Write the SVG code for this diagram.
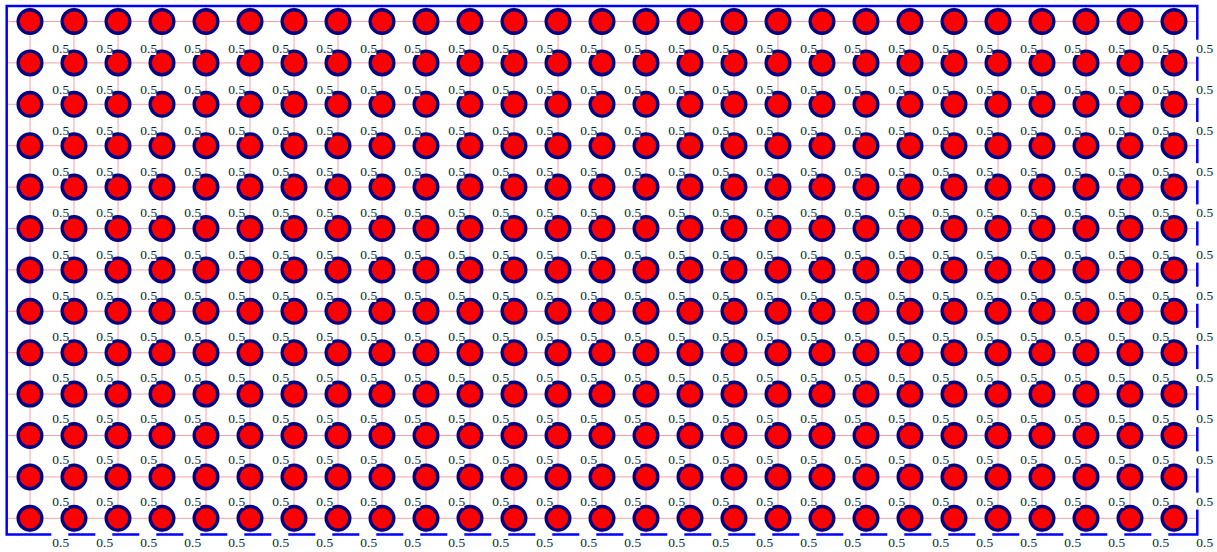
<svg xmlns="http://www.w3.org/2000/svg" width="1217" height="552" viewBox="0 0 1217 552">
<style>
.e line{stroke:#ff8080;stroke-opacity:0.75;stroke-width:1}
.n circle{fill:#ff0000;stroke:#000080;stroke-width:3.4}
.bg rect{fill:#ffffff}
.lb text{font-family:"Liberation Serif","Times New Roman",serif;font-size:13.5px;fill:#1a1a1a}
</style>
<rect width="1217" height="552" fill="#ffffff"/>
<g id="connectors" class="e">
<line x1="6.7" y1="21.5" x2="1197.3" y2="21.5"/><line x1="6.7" y1="62.9" x2="1197.3" y2="62.9"/><line x1="6.7" y1="104.3" x2="1197.3" y2="104.3"/><line x1="6.7" y1="145.7" x2="1197.3" y2="145.7"/><line x1="6.7" y1="187.1" x2="1197.3" y2="187.1"/><line x1="6.7" y1="228.5" x2="1197.3" y2="228.5"/><line x1="6.7" y1="269.9" x2="1197.3" y2="269.9"/><line x1="6.7" y1="311.3" x2="1197.3" y2="311.3"/><line x1="6.7" y1="352.7" x2="1197.3" y2="352.7"/><line x1="6.7" y1="394.1" x2="1197.3" y2="394.1"/><line x1="6.7" y1="435.5" x2="1197.3" y2="435.5"/><line x1="6.7" y1="476.9" x2="1197.3" y2="476.9"/><line x1="6.7" y1="518.3" x2="1197.3" y2="518.3"/>
<line x1="30" y1="6" x2="30" y2="534.5"/><line x1="74" y1="6" x2="74" y2="534.5"/><line x1="118" y1="6" x2="118" y2="534.5"/><line x1="162" y1="6" x2="162" y2="534.5"/><line x1="206" y1="6" x2="206" y2="534.5"/><line x1="250" y1="6" x2="250" y2="534.5"/><line x1="294" y1="6" x2="294" y2="534.5"/><line x1="338" y1="6" x2="338" y2="534.5"/><line x1="382" y1="6" x2="382" y2="534.5"/><line x1="426" y1="6" x2="426" y2="534.5"/><line x1="470" y1="6" x2="470" y2="534.5"/><line x1="514" y1="6" x2="514" y2="534.5"/><line x1="558" y1="6" x2="558" y2="534.5"/><line x1="602" y1="6" x2="602" y2="534.5"/><line x1="646" y1="6" x2="646" y2="534.5"/><line x1="690" y1="6" x2="690" y2="534.5"/><line x1="734" y1="6" x2="734" y2="534.5"/><line x1="778" y1="6" x2="778" y2="534.5"/><line x1="822" y1="6" x2="822" y2="534.5"/><line x1="866" y1="6" x2="866" y2="534.5"/><line x1="910" y1="6" x2="910" y2="534.5"/><line x1="954" y1="6" x2="954" y2="534.5"/><line x1="998" y1="6" x2="998" y2="534.5"/><line x1="1042" y1="6" x2="1042" y2="534.5"/><line x1="1086" y1="6" x2="1086" y2="534.5"/><line x1="1130" y1="6" x2="1130" y2="534.5"/><line x1="1174" y1="6" x2="1174" y2="534.5"/>
</g>
<rect id="frame" x="6.7" y="6" width="1190.6" height="528.5" fill="none" stroke="#0000ff" stroke-width="2.5"/>
<g id="nodes" class="n">
<g transform="translate(0,21.5)"><g id="n1-1"><circle cx="30" r="11.8"/></g><g id="n1-2"><circle cx="74" r="11.8"/></g><g id="n1-3"><circle cx="118" r="11.8"/></g><g id="n1-4"><circle cx="162" r="11.8"/></g><g id="n1-5"><circle cx="206" r="11.8"/></g><g id="n1-6"><circle cx="250" r="11.8"/></g><g id="n1-7"><circle cx="294" r="11.8"/></g><g id="n1-8"><circle cx="338" r="11.8"/></g><g id="n1-9"><circle cx="382" r="11.8"/></g><g id="n1-10"><circle cx="426" r="11.8"/></g><g id="n1-11"><circle cx="470" r="11.8"/></g><g id="n1-12"><circle cx="514" r="11.8"/></g><g id="n1-13"><circle cx="558" r="11.8"/></g><g id="n1-14"><circle cx="602" r="11.8"/></g><g id="n1-15"><circle cx="646" r="11.8"/></g><g id="n1-16"><circle cx="690" r="11.8"/></g><g id="n1-17"><circle cx="734" r="11.8"/></g><g id="n1-18"><circle cx="778" r="11.8"/></g><g id="n1-19"><circle cx="822" r="11.8"/></g><g id="n1-20"><circle cx="866" r="11.8"/></g><g id="n1-21"><circle cx="910" r="11.8"/></g><g id="n1-22"><circle cx="954" r="11.8"/></g><g id="n1-23"><circle cx="998" r="11.8"/></g><g id="n1-24"><circle cx="1042" r="11.8"/></g><g id="n1-25"><circle cx="1086" r="11.8"/></g><g id="n1-26"><circle cx="1130" r="11.8"/></g><g id="n1-27"><circle cx="1174" r="11.8"/></g></g>
<g transform="translate(0,62.9)"><g id="n2-1"><circle cx="30" r="11.8"/></g><g id="n2-2"><circle cx="74" r="11.8"/></g><g id="n2-3"><circle cx="118" r="11.8"/></g><g id="n2-4"><circle cx="162" r="11.8"/></g><g id="n2-5"><circle cx="206" r="11.8"/></g><g id="n2-6"><circle cx="250" r="11.8"/></g><g id="n2-7"><circle cx="294" r="11.8"/></g><g id="n2-8"><circle cx="338" r="11.8"/></g><g id="n2-9"><circle cx="382" r="11.8"/></g><g id="n2-10"><circle cx="426" r="11.8"/></g><g id="n2-11"><circle cx="470" r="11.8"/></g><g id="n2-12"><circle cx="514" r="11.8"/></g><g id="n2-13"><circle cx="558" r="11.8"/></g><g id="n2-14"><circle cx="602" r="11.8"/></g><g id="n2-15"><circle cx="646" r="11.8"/></g><g id="n2-16"><circle cx="690" r="11.8"/></g><g id="n2-17"><circle cx="734" r="11.8"/></g><g id="n2-18"><circle cx="778" r="11.8"/></g><g id="n2-19"><circle cx="822" r="11.8"/></g><g id="n2-20"><circle cx="866" r="11.8"/></g><g id="n2-21"><circle cx="910" r="11.8"/></g><g id="n2-22"><circle cx="954" r="11.8"/></g><g id="n2-23"><circle cx="998" r="11.8"/></g><g id="n2-24"><circle cx="1042" r="11.8"/></g><g id="n2-25"><circle cx="1086" r="11.8"/></g><g id="n2-26"><circle cx="1130" r="11.8"/></g><g id="n2-27"><circle cx="1174" r="11.8"/></g></g>
<g transform="translate(0,104.3)"><g id="n3-1"><circle cx="30" r="11.8"/></g><g id="n3-2"><circle cx="74" r="11.8"/></g><g id="n3-3"><circle cx="118" r="11.8"/></g><g id="n3-4"><circle cx="162" r="11.8"/></g><g id="n3-5"><circle cx="206" r="11.8"/></g><g id="n3-6"><circle cx="250" r="11.8"/></g><g id="n3-7"><circle cx="294" r="11.8"/></g><g id="n3-8"><circle cx="338" r="11.8"/></g><g id="n3-9"><circle cx="382" r="11.8"/></g><g id="n3-10"><circle cx="426" r="11.8"/></g><g id="n3-11"><circle cx="470" r="11.8"/></g><g id="n3-12"><circle cx="514" r="11.8"/></g><g id="n3-13"><circle cx="558" r="11.8"/></g><g id="n3-14"><circle cx="602" r="11.8"/></g><g id="n3-15"><circle cx="646" r="11.8"/></g><g id="n3-16"><circle cx="690" r="11.8"/></g><g id="n3-17"><circle cx="734" r="11.8"/></g><g id="n3-18"><circle cx="778" r="11.8"/></g><g id="n3-19"><circle cx="822" r="11.8"/></g><g id="n3-20"><circle cx="866" r="11.8"/></g><g id="n3-21"><circle cx="910" r="11.8"/></g><g id="n3-22"><circle cx="954" r="11.8"/></g><g id="n3-23"><circle cx="998" r="11.8"/></g><g id="n3-24"><circle cx="1042" r="11.8"/></g><g id="n3-25"><circle cx="1086" r="11.8"/></g><g id="n3-26"><circle cx="1130" r="11.8"/></g><g id="n3-27"><circle cx="1174" r="11.8"/></g></g>
<g transform="translate(0,145.7)"><g id="n4-1"><circle cx="30" r="11.8"/></g><g id="n4-2"><circle cx="74" r="11.8"/></g><g id="n4-3"><circle cx="118" r="11.8"/></g><g id="n4-4"><circle cx="162" r="11.8"/></g><g id="n4-5"><circle cx="206" r="11.8"/></g><g id="n4-6"><circle cx="250" r="11.8"/></g><g id="n4-7"><circle cx="294" r="11.8"/></g><g id="n4-8"><circle cx="338" r="11.8"/></g><g id="n4-9"><circle cx="382" r="11.8"/></g><g id="n4-10"><circle cx="426" r="11.8"/></g><g id="n4-11"><circle cx="470" r="11.8"/></g><g id="n4-12"><circle cx="514" r="11.8"/></g><g id="n4-13"><circle cx="558" r="11.8"/></g><g id="n4-14"><circle cx="602" r="11.8"/></g><g id="n4-15"><circle cx="646" r="11.8"/></g><g id="n4-16"><circle cx="690" r="11.8"/></g><g id="n4-17"><circle cx="734" r="11.8"/></g><g id="n4-18"><circle cx="778" r="11.8"/></g><g id="n4-19"><circle cx="822" r="11.8"/></g><g id="n4-20"><circle cx="866" r="11.8"/></g><g id="n4-21"><circle cx="910" r="11.8"/></g><g id="n4-22"><circle cx="954" r="11.8"/></g><g id="n4-23"><circle cx="998" r="11.8"/></g><g id="n4-24"><circle cx="1042" r="11.8"/></g><g id="n4-25"><circle cx="1086" r="11.8"/></g><g id="n4-26"><circle cx="1130" r="11.8"/></g><g id="n4-27"><circle cx="1174" r="11.8"/></g></g>
<g transform="translate(0,187.1)"><g id="n5-1"><circle cx="30" r="11.8"/></g><g id="n5-2"><circle cx="74" r="11.8"/></g><g id="n5-3"><circle cx="118" r="11.8"/></g><g id="n5-4"><circle cx="162" r="11.8"/></g><g id="n5-5"><circle cx="206" r="11.8"/></g><g id="n5-6"><circle cx="250" r="11.8"/></g><g id="n5-7"><circle cx="294" r="11.8"/></g><g id="n5-8"><circle cx="338" r="11.8"/></g><g id="n5-9"><circle cx="382" r="11.8"/></g><g id="n5-10"><circle cx="426" r="11.8"/></g><g id="n5-11"><circle cx="470" r="11.8"/></g><g id="n5-12"><circle cx="514" r="11.8"/></g><g id="n5-13"><circle cx="558" r="11.8"/></g><g id="n5-14"><circle cx="602" r="11.8"/></g><g id="n5-15"><circle cx="646" r="11.8"/></g><g id="n5-16"><circle cx="690" r="11.8"/></g><g id="n5-17"><circle cx="734" r="11.8"/></g><g id="n5-18"><circle cx="778" r="11.8"/></g><g id="n5-19"><circle cx="822" r="11.8"/></g><g id="n5-20"><circle cx="866" r="11.8"/></g><g id="n5-21"><circle cx="910" r="11.8"/></g><g id="n5-22"><circle cx="954" r="11.8"/></g><g id="n5-23"><circle cx="998" r="11.8"/></g><g id="n5-24"><circle cx="1042" r="11.8"/></g><g id="n5-25"><circle cx="1086" r="11.8"/></g><g id="n5-26"><circle cx="1130" r="11.8"/></g><g id="n5-27"><circle cx="1174" r="11.8"/></g></g>
<g transform="translate(0,228.5)"><g id="n6-1"><circle cx="30" r="11.8"/></g><g id="n6-2"><circle cx="74" r="11.8"/></g><g id="n6-3"><circle cx="118" r="11.8"/></g><g id="n6-4"><circle cx="162" r="11.8"/></g><g id="n6-5"><circle cx="206" r="11.8"/></g><g id="n6-6"><circle cx="250" r="11.8"/></g><g id="n6-7"><circle cx="294" r="11.8"/></g><g id="n6-8"><circle cx="338" r="11.8"/></g><g id="n6-9"><circle cx="382" r="11.8"/></g><g id="n6-10"><circle cx="426" r="11.8"/></g><g id="n6-11"><circle cx="470" r="11.8"/></g><g id="n6-12"><circle cx="514" r="11.8"/></g><g id="n6-13"><circle cx="558" r="11.8"/></g><g id="n6-14"><circle cx="602" r="11.8"/></g><g id="n6-15"><circle cx="646" r="11.8"/></g><g id="n6-16"><circle cx="690" r="11.8"/></g><g id="n6-17"><circle cx="734" r="11.8"/></g><g id="n6-18"><circle cx="778" r="11.8"/></g><g id="n6-19"><circle cx="822" r="11.8"/></g><g id="n6-20"><circle cx="866" r="11.8"/></g><g id="n6-21"><circle cx="910" r="11.8"/></g><g id="n6-22"><circle cx="954" r="11.8"/></g><g id="n6-23"><circle cx="998" r="11.8"/></g><g id="n6-24"><circle cx="1042" r="11.8"/></g><g id="n6-25"><circle cx="1086" r="11.8"/></g><g id="n6-26"><circle cx="1130" r="11.8"/></g><g id="n6-27"><circle cx="1174" r="11.8"/></g></g>
<g transform="translate(0,269.9)"><g id="n7-1"><circle cx="30" r="11.8"/></g><g id="n7-2"><circle cx="74" r="11.8"/></g><g id="n7-3"><circle cx="118" r="11.8"/></g><g id="n7-4"><circle cx="162" r="11.8"/></g><g id="n7-5"><circle cx="206" r="11.8"/></g><g id="n7-6"><circle cx="250" r="11.8"/></g><g id="n7-7"><circle cx="294" r="11.8"/></g><g id="n7-8"><circle cx="338" r="11.8"/></g><g id="n7-9"><circle cx="382" r="11.8"/></g><g id="n7-10"><circle cx="426" r="11.8"/></g><g id="n7-11"><circle cx="470" r="11.8"/></g><g id="n7-12"><circle cx="514" r="11.8"/></g><g id="n7-13"><circle cx="558" r="11.8"/></g><g id="n7-14"><circle cx="602" r="11.8"/></g><g id="n7-15"><circle cx="646" r="11.8"/></g><g id="n7-16"><circle cx="690" r="11.8"/></g><g id="n7-17"><circle cx="734" r="11.8"/></g><g id="n7-18"><circle cx="778" r="11.8"/></g><g id="n7-19"><circle cx="822" r="11.8"/></g><g id="n7-20"><circle cx="866" r="11.8"/></g><g id="n7-21"><circle cx="910" r="11.8"/></g><g id="n7-22"><circle cx="954" r="11.8"/></g><g id="n7-23"><circle cx="998" r="11.8"/></g><g id="n7-24"><circle cx="1042" r="11.8"/></g><g id="n7-25"><circle cx="1086" r="11.8"/></g><g id="n7-26"><circle cx="1130" r="11.8"/></g><g id="n7-27"><circle cx="1174" r="11.8"/></g></g>
<g transform="translate(0,311.3)"><g id="n8-1"><circle cx="30" r="11.8"/></g><g id="n8-2"><circle cx="74" r="11.8"/></g><g id="n8-3"><circle cx="118" r="11.8"/></g><g id="n8-4"><circle cx="162" r="11.8"/></g><g id="n8-5"><circle cx="206" r="11.8"/></g><g id="n8-6"><circle cx="250" r="11.8"/></g><g id="n8-7"><circle cx="294" r="11.8"/></g><g id="n8-8"><circle cx="338" r="11.8"/></g><g id="n8-9"><circle cx="382" r="11.8"/></g><g id="n8-10"><circle cx="426" r="11.8"/></g><g id="n8-11"><circle cx="470" r="11.8"/></g><g id="n8-12"><circle cx="514" r="11.8"/></g><g id="n8-13"><circle cx="558" r="11.8"/></g><g id="n8-14"><circle cx="602" r="11.8"/></g><g id="n8-15"><circle cx="646" r="11.8"/></g><g id="n8-16"><circle cx="690" r="11.8"/></g><g id="n8-17"><circle cx="734" r="11.8"/></g><g id="n8-18"><circle cx="778" r="11.8"/></g><g id="n8-19"><circle cx="822" r="11.8"/></g><g id="n8-20"><circle cx="866" r="11.8"/></g><g id="n8-21"><circle cx="910" r="11.8"/></g><g id="n8-22"><circle cx="954" r="11.8"/></g><g id="n8-23"><circle cx="998" r="11.8"/></g><g id="n8-24"><circle cx="1042" r="11.8"/></g><g id="n8-25"><circle cx="1086" r="11.8"/></g><g id="n8-26"><circle cx="1130" r="11.8"/></g><g id="n8-27"><circle cx="1174" r="11.8"/></g></g>
<g transform="translate(0,352.7)"><g id="n9-1"><circle cx="30" r="11.8"/></g><g id="n9-2"><circle cx="74" r="11.8"/></g><g id="n9-3"><circle cx="118" r="11.8"/></g><g id="n9-4"><circle cx="162" r="11.8"/></g><g id="n9-5"><circle cx="206" r="11.8"/></g><g id="n9-6"><circle cx="250" r="11.8"/></g><g id="n9-7"><circle cx="294" r="11.8"/></g><g id="n9-8"><circle cx="338" r="11.8"/></g><g id="n9-9"><circle cx="382" r="11.8"/></g><g id="n9-10"><circle cx="426" r="11.8"/></g><g id="n9-11"><circle cx="470" r="11.8"/></g><g id="n9-12"><circle cx="514" r="11.8"/></g><g id="n9-13"><circle cx="558" r="11.8"/></g><g id="n9-14"><circle cx="602" r="11.8"/></g><g id="n9-15"><circle cx="646" r="11.8"/></g><g id="n9-16"><circle cx="690" r="11.8"/></g><g id="n9-17"><circle cx="734" r="11.8"/></g><g id="n9-18"><circle cx="778" r="11.8"/></g><g id="n9-19"><circle cx="822" r="11.8"/></g><g id="n9-20"><circle cx="866" r="11.8"/></g><g id="n9-21"><circle cx="910" r="11.8"/></g><g id="n9-22"><circle cx="954" r="11.8"/></g><g id="n9-23"><circle cx="998" r="11.8"/></g><g id="n9-24"><circle cx="1042" r="11.8"/></g><g id="n9-25"><circle cx="1086" r="11.8"/></g><g id="n9-26"><circle cx="1130" r="11.8"/></g><g id="n9-27"><circle cx="1174" r="11.8"/></g></g>
<g transform="translate(0,394.1)"><g id="n10-1"><circle cx="30" r="11.8"/></g><g id="n10-2"><circle cx="74" r="11.8"/></g><g id="n10-3"><circle cx="118" r="11.8"/></g><g id="n10-4"><circle cx="162" r="11.8"/></g><g id="n10-5"><circle cx="206" r="11.8"/></g><g id="n10-6"><circle cx="250" r="11.8"/></g><g id="n10-7"><circle cx="294" r="11.8"/></g><g id="n10-8"><circle cx="338" r="11.8"/></g><g id="n10-9"><circle cx="382" r="11.8"/></g><g id="n10-10"><circle cx="426" r="11.8"/></g><g id="n10-11"><circle cx="470" r="11.8"/></g><g id="n10-12"><circle cx="514" r="11.8"/></g><g id="n10-13"><circle cx="558" r="11.8"/></g><g id="n10-14"><circle cx="602" r="11.8"/></g><g id="n10-15"><circle cx="646" r="11.8"/></g><g id="n10-16"><circle cx="690" r="11.8"/></g><g id="n10-17"><circle cx="734" r="11.8"/></g><g id="n10-18"><circle cx="778" r="11.8"/></g><g id="n10-19"><circle cx="822" r="11.8"/></g><g id="n10-20"><circle cx="866" r="11.8"/></g><g id="n10-21"><circle cx="910" r="11.8"/></g><g id="n10-22"><circle cx="954" r="11.8"/></g><g id="n10-23"><circle cx="998" r="11.8"/></g><g id="n10-24"><circle cx="1042" r="11.8"/></g><g id="n10-25"><circle cx="1086" r="11.8"/></g><g id="n10-26"><circle cx="1130" r="11.8"/></g><g id="n10-27"><circle cx="1174" r="11.8"/></g></g>
<g transform="translate(0,435.5)"><g id="n11-1"><circle cx="30" r="11.8"/></g><g id="n11-2"><circle cx="74" r="11.8"/></g><g id="n11-3"><circle cx="118" r="11.8"/></g><g id="n11-4"><circle cx="162" r="11.8"/></g><g id="n11-5"><circle cx="206" r="11.8"/></g><g id="n11-6"><circle cx="250" r="11.8"/></g><g id="n11-7"><circle cx="294" r="11.8"/></g><g id="n11-8"><circle cx="338" r="11.8"/></g><g id="n11-9"><circle cx="382" r="11.8"/></g><g id="n11-10"><circle cx="426" r="11.8"/></g><g id="n11-11"><circle cx="470" r="11.8"/></g><g id="n11-12"><circle cx="514" r="11.8"/></g><g id="n11-13"><circle cx="558" r="11.8"/></g><g id="n11-14"><circle cx="602" r="11.8"/></g><g id="n11-15"><circle cx="646" r="11.8"/></g><g id="n11-16"><circle cx="690" r="11.8"/></g><g id="n11-17"><circle cx="734" r="11.8"/></g><g id="n11-18"><circle cx="778" r="11.8"/></g><g id="n11-19"><circle cx="822" r="11.8"/></g><g id="n11-20"><circle cx="866" r="11.8"/></g><g id="n11-21"><circle cx="910" r="11.8"/></g><g id="n11-22"><circle cx="954" r="11.8"/></g><g id="n11-23"><circle cx="998" r="11.8"/></g><g id="n11-24"><circle cx="1042" r="11.8"/></g><g id="n11-25"><circle cx="1086" r="11.8"/></g><g id="n11-26"><circle cx="1130" r="11.8"/></g><g id="n11-27"><circle cx="1174" r="11.8"/></g></g>
<g transform="translate(0,476.9)"><g id="n12-1"><circle cx="30" r="11.8"/></g><g id="n12-2"><circle cx="74" r="11.8"/></g><g id="n12-3"><circle cx="118" r="11.8"/></g><g id="n12-4"><circle cx="162" r="11.8"/></g><g id="n12-5"><circle cx="206" r="11.8"/></g><g id="n12-6"><circle cx="250" r="11.8"/></g><g id="n12-7"><circle cx="294" r="11.8"/></g><g id="n12-8"><circle cx="338" r="11.8"/></g><g id="n12-9"><circle cx="382" r="11.8"/></g><g id="n12-10"><circle cx="426" r="11.8"/></g><g id="n12-11"><circle cx="470" r="11.8"/></g><g id="n12-12"><circle cx="514" r="11.8"/></g><g id="n12-13"><circle cx="558" r="11.8"/></g><g id="n12-14"><circle cx="602" r="11.8"/></g><g id="n12-15"><circle cx="646" r="11.8"/></g><g id="n12-16"><circle cx="690" r="11.8"/></g><g id="n12-17"><circle cx="734" r="11.8"/></g><g id="n12-18"><circle cx="778" r="11.8"/></g><g id="n12-19"><circle cx="822" r="11.8"/></g><g id="n12-20"><circle cx="866" r="11.8"/></g><g id="n12-21"><circle cx="910" r="11.8"/></g><g id="n12-22"><circle cx="954" r="11.8"/></g><g id="n12-23"><circle cx="998" r="11.8"/></g><g id="n12-24"><circle cx="1042" r="11.8"/></g><g id="n12-25"><circle cx="1086" r="11.8"/></g><g id="n12-26"><circle cx="1130" r="11.8"/></g><g id="n12-27"><circle cx="1174" r="11.8"/></g></g>
<g transform="translate(0,518.3)"><g id="n13-1"><circle cx="30" r="11.8"/></g><g id="n13-2"><circle cx="74" r="11.8"/></g><g id="n13-3"><circle cx="118" r="11.8"/></g><g id="n13-4"><circle cx="162" r="11.8"/></g><g id="n13-5"><circle cx="206" r="11.8"/></g><g id="n13-6"><circle cx="250" r="11.8"/></g><g id="n13-7"><circle cx="294" r="11.8"/></g><g id="n13-8"><circle cx="338" r="11.8"/></g><g id="n13-9"><circle cx="382" r="11.8"/></g><g id="n13-10"><circle cx="426" r="11.8"/></g><g id="n13-11"><circle cx="470" r="11.8"/></g><g id="n13-12"><circle cx="514" r="11.8"/></g><g id="n13-13"><circle cx="558" r="11.8"/></g><g id="n13-14"><circle cx="602" r="11.8"/></g><g id="n13-15"><circle cx="646" r="11.8"/></g><g id="n13-16"><circle cx="690" r="11.8"/></g><g id="n13-17"><circle cx="734" r="11.8"/></g><g id="n13-18"><circle cx="778" r="11.8"/></g><g id="n13-19"><circle cx="822" r="11.8"/></g><g id="n13-20"><circle cx="866" r="11.8"/></g><g id="n13-21"><circle cx="910" r="11.8"/></g><g id="n13-22"><circle cx="954" r="11.8"/></g><g id="n13-23"><circle cx="998" r="11.8"/></g><g id="n13-24"><circle cx="1042" r="11.8"/></g><g id="n13-25"><circle cx="1086" r="11.8"/></g><g id="n13-26"><circle cx="1130" r="11.8"/></g><g id="n13-27"><circle cx="1174" r="11.8"/></g></g>
</g>
<defs>
<g id="rowbg" fill="#ffffff"><rect x="50.8" y="-12" width="17.5" height="14.3"/><rect x="94.8" y="-12" width="17.5" height="14.3"/><rect x="138.8" y="-12" width="17.5" height="14.3"/><rect x="182.8" y="-12" width="17.5" height="14.3"/><rect x="226.8" y="-12" width="17.5" height="14.3"/><rect x="270.8" y="-12" width="17.5" height="14.3"/><rect x="314.8" y="-12" width="17.5" height="14.3"/><rect x="358.8" y="-12" width="17.5" height="14.3"/><rect x="402.8" y="-12" width="17.5" height="14.3"/><rect x="446.8" y="-12" width="17.5" height="14.3"/><rect x="490.8" y="-12" width="17.5" height="14.3"/><rect x="534.8" y="-12" width="17.5" height="14.3"/><rect x="578.8" y="-12" width="17.5" height="14.3"/><rect x="622.8" y="-12" width="17.5" height="14.3"/><rect x="666.8" y="-12" width="17.5" height="14.3"/><rect x="710.8" y="-12" width="17.5" height="14.3"/><rect x="754.8" y="-12" width="17.5" height="14.3"/><rect x="798.8" y="-12" width="17.5" height="14.3"/><rect x="842.8" y="-12" width="17.5" height="14.3"/><rect x="886.8" y="-12" width="17.5" height="14.3"/><rect x="930.8" y="-12" width="17.5" height="14.3"/><rect x="974.8" y="-12" width="17.5" height="14.3"/><rect x="1018.8" y="-12" width="17.5" height="14.3"/><rect x="1062.8" y="-12" width="17.5" height="14.3"/><rect x="1106.8" y="-12" width="17.5" height="14.3"/><rect x="1150.8" y="-12" width="17.5" height="14.3"/><rect x="1194.3" y="-13" width="18" height="17"/></g>
</defs>
<g id="label-backgrounds" class="bg">
<use href="#rowbg" y="52.7"/><use href="#rowbg" y="93.9"/><use href="#rowbg" y="135"/><use href="#rowbg" y="176.2"/><use href="#rowbg" y="217.4"/><use href="#rowbg" y="258.6"/><use href="#rowbg" y="299.7"/><use href="#rowbg" y="340.9"/><use href="#rowbg" y="382.1"/><use href="#rowbg" y="423.2"/><use href="#rowbg" y="464.4"/><use href="#rowbg" y="505.6"/>
<g transform="translate(0,531.5)"><rect x="51.3" width="17" height="5.5"/><rect x="95.3" width="17" height="5.5"/><rect x="139.3" width="17" height="5.5"/><rect x="183.3" width="17" height="5.5"/><rect x="227.3" width="17" height="5.5"/><rect x="271.3" width="17" height="5.5"/><rect x="315.3" width="17" height="5.5"/><rect x="359.3" width="17" height="5.5"/><rect x="403.3" width="17" height="5.5"/><rect x="447.3" width="17" height="5.5"/><rect x="491.3" width="17" height="5.5"/><rect x="535.3" width="17" height="5.5"/><rect x="579.3" width="17" height="5.5"/><rect x="623.3" width="17" height="5.5"/><rect x="667.3" width="17" height="5.5"/><rect x="711.3" width="17" height="5.5"/><rect x="755.3" width="17" height="5.5"/><rect x="799.3" width="17" height="5.5"/><rect x="843.3" width="17" height="5.5"/><rect x="887.3" width="17" height="5.5"/><rect x="931.3" width="17" height="5.5"/><rect x="975.3" width="17" height="5.5"/><rect x="1019.3" width="17" height="5.5"/><rect x="1063.3" width="17" height="5.5"/><rect x="1107.3" width="17" height="5.5"/><rect x="1151.3" width="17" height="5.5"/></g>
</g>
<g id="labels" class="lb">
<g transform="translate(0,52.7)"><text x="52.3">0.5</text><text x="96.3">0.5</text><text x="140.3">0.5</text><text x="184.3">0.5</text><text x="228.3">0.5</text><text x="272.3">0.5</text><text x="316.3">0.5</text><text x="360.3">0.5</text><text x="404.3">0.5</text><text x="448.3">0.5</text><text x="492.3">0.5</text><text x="536.3">0.5</text><text x="580.3">0.5</text><text x="624.3">0.5</text><text x="668.3">0.5</text><text x="712.3">0.5</text><text x="756.3">0.5</text><text x="800.3">0.5</text><text x="844.3">0.5</text><text x="888.3">0.5</text><text x="932.3">0.5</text><text x="976.3">0.5</text><text x="1020.3">0.5</text><text x="1064.3">0.5</text><text x="1108.3">0.5</text><text x="1152.3">0.5</text><text x="1196.3">0.5</text></g>
<g transform="translate(0,93.9)"><text x="52.3">0.5</text><text x="96.3">0.5</text><text x="140.3">0.5</text><text x="184.3">0.5</text><text x="228.3">0.5</text><text x="272.3">0.5</text><text x="316.3">0.5</text><text x="360.3">0.5</text><text x="404.3">0.5</text><text x="448.3">0.5</text><text x="492.3">0.5</text><text x="536.3">0.5</text><text x="580.3">0.5</text><text x="624.3">0.5</text><text x="668.3">0.5</text><text x="712.3">0.5</text><text x="756.3">0.5</text><text x="800.3">0.5</text><text x="844.3">0.5</text><text x="888.3">0.5</text><text x="932.3">0.5</text><text x="976.3">0.5</text><text x="1020.3">0.5</text><text x="1064.3">0.5</text><text x="1108.3">0.5</text><text x="1152.3">0.5</text><text x="1196.3">0.5</text></g>
<g transform="translate(0,135)"><text x="52.3">0.5</text><text x="96.3">0.5</text><text x="140.3">0.5</text><text x="184.3">0.5</text><text x="228.3">0.5</text><text x="272.3">0.5</text><text x="316.3">0.5</text><text x="360.3">0.5</text><text x="404.3">0.5</text><text x="448.3">0.5</text><text x="492.3">0.5</text><text x="536.3">0.5</text><text x="580.3">0.5</text><text x="624.3">0.5</text><text x="668.3">0.5</text><text x="712.3">0.5</text><text x="756.3">0.5</text><text x="800.3">0.5</text><text x="844.3">0.5</text><text x="888.3">0.5</text><text x="932.3">0.5</text><text x="976.3">0.5</text><text x="1020.3">0.5</text><text x="1064.3">0.5</text><text x="1108.3">0.5</text><text x="1152.3">0.5</text><text x="1196.3">0.5</text></g>
<g transform="translate(0,176.2)"><text x="52.3">0.5</text><text x="96.3">0.5</text><text x="140.3">0.5</text><text x="184.3">0.5</text><text x="228.3">0.5</text><text x="272.3">0.5</text><text x="316.3">0.5</text><text x="360.3">0.5</text><text x="404.3">0.5</text><text x="448.3">0.5</text><text x="492.3">0.5</text><text x="536.3">0.5</text><text x="580.3">0.5</text><text x="624.3">0.5</text><text x="668.3">0.5</text><text x="712.3">0.5</text><text x="756.3">0.5</text><text x="800.3">0.5</text><text x="844.3">0.5</text><text x="888.3">0.5</text><text x="932.3">0.5</text><text x="976.3">0.5</text><text x="1020.3">0.5</text><text x="1064.3">0.5</text><text x="1108.3">0.5</text><text x="1152.3">0.5</text><text x="1196.3">0.5</text></g>
<g transform="translate(0,217.4)"><text x="52.3">0.5</text><text x="96.3">0.5</text><text x="140.3">0.5</text><text x="184.3">0.5</text><text x="228.3">0.5</text><text x="272.3">0.5</text><text x="316.3">0.5</text><text x="360.3">0.5</text><text x="404.3">0.5</text><text x="448.3">0.5</text><text x="492.3">0.5</text><text x="536.3">0.5</text><text x="580.3">0.5</text><text x="624.3">0.5</text><text x="668.3">0.5</text><text x="712.3">0.5</text><text x="756.3">0.5</text><text x="800.3">0.5</text><text x="844.3">0.5</text><text x="888.3">0.5</text><text x="932.3">0.5</text><text x="976.3">0.5</text><text x="1020.3">0.5</text><text x="1064.3">0.5</text><text x="1108.3">0.5</text><text x="1152.3">0.5</text><text x="1196.3">0.5</text></g>
<g transform="translate(0,258.6)"><text x="52.3">0.5</text><text x="96.3">0.5</text><text x="140.3">0.5</text><text x="184.3">0.5</text><text x="228.3">0.5</text><text x="272.3">0.5</text><text x="316.3">0.5</text><text x="360.3">0.5</text><text x="404.3">0.5</text><text x="448.3">0.5</text><text x="492.3">0.5</text><text x="536.3">0.5</text><text x="580.3">0.5</text><text x="624.3">0.5</text><text x="668.3">0.5</text><text x="712.3">0.5</text><text x="756.3">0.5</text><text x="800.3">0.5</text><text x="844.3">0.5</text><text x="888.3">0.5</text><text x="932.3">0.5</text><text x="976.3">0.5</text><text x="1020.3">0.5</text><text x="1064.3">0.5</text><text x="1108.3">0.5</text><text x="1152.3">0.5</text><text x="1196.3">0.5</text></g>
<g transform="translate(0,299.7)"><text x="52.3">0.5</text><text x="96.3">0.5</text><text x="140.3">0.5</text><text x="184.3">0.5</text><text x="228.3">0.5</text><text x="272.3">0.5</text><text x="316.3">0.5</text><text x="360.3">0.5</text><text x="404.3">0.5</text><text x="448.3">0.5</text><text x="492.3">0.5</text><text x="536.3">0.5</text><text x="580.3">0.5</text><text x="624.3">0.5</text><text x="668.3">0.5</text><text x="712.3">0.5</text><text x="756.3">0.5</text><text x="800.3">0.5</text><text x="844.3">0.5</text><text x="888.3">0.5</text><text x="932.3">0.5</text><text x="976.3">0.5</text><text x="1020.3">0.5</text><text x="1064.3">0.5</text><text x="1108.3">0.5</text><text x="1152.3">0.5</text><text x="1196.3">0.5</text></g>
<g transform="translate(0,340.9)"><text x="52.3">0.5</text><text x="96.3">0.5</text><text x="140.3">0.5</text><text x="184.3">0.5</text><text x="228.3">0.5</text><text x="272.3">0.5</text><text x="316.3">0.5</text><text x="360.3">0.5</text><text x="404.3">0.5</text><text x="448.3">0.5</text><text x="492.3">0.5</text><text x="536.3">0.5</text><text x="580.3">0.5</text><text x="624.3">0.5</text><text x="668.3">0.5</text><text x="712.3">0.5</text><text x="756.3">0.5</text><text x="800.3">0.5</text><text x="844.3">0.5</text><text x="888.3">0.5</text><text x="932.3">0.5</text><text x="976.3">0.5</text><text x="1020.3">0.5</text><text x="1064.3">0.5</text><text x="1108.3">0.5</text><text x="1152.3">0.5</text><text x="1196.3">0.5</text></g>
<g transform="translate(0,382.1)"><text x="52.3">0.5</text><text x="96.3">0.5</text><text x="140.3">0.5</text><text x="184.3">0.5</text><text x="228.3">0.5</text><text x="272.3">0.5</text><text x="316.3">0.5</text><text x="360.3">0.5</text><text x="404.3">0.5</text><text x="448.3">0.5</text><text x="492.3">0.5</text><text x="536.3">0.5</text><text x="580.3">0.5</text><text x="624.3">0.5</text><text x="668.3">0.5</text><text x="712.3">0.5</text><text x="756.3">0.5</text><text x="800.3">0.5</text><text x="844.3">0.5</text><text x="888.3">0.5</text><text x="932.3">0.5</text><text x="976.3">0.5</text><text x="1020.3">0.5</text><text x="1064.3">0.5</text><text x="1108.3">0.5</text><text x="1152.3">0.5</text><text x="1196.3">0.5</text></g>
<g transform="translate(0,423.2)"><text x="52.3">0.5</text><text x="96.3">0.5</text><text x="140.3">0.5</text><text x="184.3">0.5</text><text x="228.3">0.5</text><text x="272.3">0.5</text><text x="316.3">0.5</text><text x="360.3">0.5</text><text x="404.3">0.5</text><text x="448.3">0.5</text><text x="492.3">0.5</text><text x="536.3">0.5</text><text x="580.3">0.5</text><text x="624.3">0.5</text><text x="668.3">0.5</text><text x="712.3">0.5</text><text x="756.3">0.5</text><text x="800.3">0.5</text><text x="844.3">0.5</text><text x="888.3">0.5</text><text x="932.3">0.5</text><text x="976.3">0.5</text><text x="1020.3">0.5</text><text x="1064.3">0.5</text><text x="1108.3">0.5</text><text x="1152.3">0.5</text><text x="1196.3">0.5</text></g>
<g transform="translate(0,464.4)"><text x="52.3">0.5</text><text x="96.3">0.5</text><text x="140.3">0.5</text><text x="184.3">0.5</text><text x="228.3">0.5</text><text x="272.3">0.5</text><text x="316.3">0.5</text><text x="360.3">0.5</text><text x="404.3">0.5</text><text x="448.3">0.5</text><text x="492.3">0.5</text><text x="536.3">0.5</text><text x="580.3">0.5</text><text x="624.3">0.5</text><text x="668.3">0.5</text><text x="712.3">0.5</text><text x="756.3">0.5</text><text x="800.3">0.5</text><text x="844.3">0.5</text><text x="888.3">0.5</text><text x="932.3">0.5</text><text x="976.3">0.5</text><text x="1020.3">0.5</text><text x="1064.3">0.5</text><text x="1108.3">0.5</text><text x="1152.3">0.5</text><text x="1196.3">0.5</text></g>
<g transform="translate(0,505.6)"><text x="52.3">0.5</text><text x="96.3">0.5</text><text x="140.3">0.5</text><text x="184.3">0.5</text><text x="228.3">0.5</text><text x="272.3">0.5</text><text x="316.3">0.5</text><text x="360.3">0.5</text><text x="404.3">0.5</text><text x="448.3">0.5</text><text x="492.3">0.5</text><text x="536.3">0.5</text><text x="580.3">0.5</text><text x="624.3">0.5</text><text x="668.3">0.5</text><text x="712.3">0.5</text><text x="756.3">0.5</text><text x="800.3">0.5</text><text x="844.3">0.5</text><text x="888.3">0.5</text><text x="932.3">0.5</text><text x="976.3">0.5</text><text x="1020.3">0.5</text><text x="1064.3">0.5</text><text x="1108.3">0.5</text><text x="1152.3">0.5</text><text x="1196.3">0.5</text></g>
<g transform="translate(0,546.7)"><text x="52.3">0.5</text><text x="96.3">0.5</text><text x="140.3">0.5</text><text x="184.3">0.5</text><text x="228.3">0.5</text><text x="272.3">0.5</text><text x="316.3">0.5</text><text x="360.3">0.5</text><text x="404.3">0.5</text><text x="448.3">0.5</text><text x="492.3">0.5</text><text x="536.3">0.5</text><text x="580.3">0.5</text><text x="624.3">0.5</text><text x="668.3">0.5</text><text x="712.3">0.5</text><text x="756.3">0.5</text><text x="800.3">0.5</text><text x="844.3">0.5</text><text x="888.3">0.5</text><text x="932.3">0.5</text><text x="976.3">0.5</text><text x="1020.3">0.5</text><text x="1064.3">0.5</text><text x="1108.3">0.5</text><text x="1152.3">0.5</text><text x="1196.3">0.5</text></g>
</g>
</svg>
